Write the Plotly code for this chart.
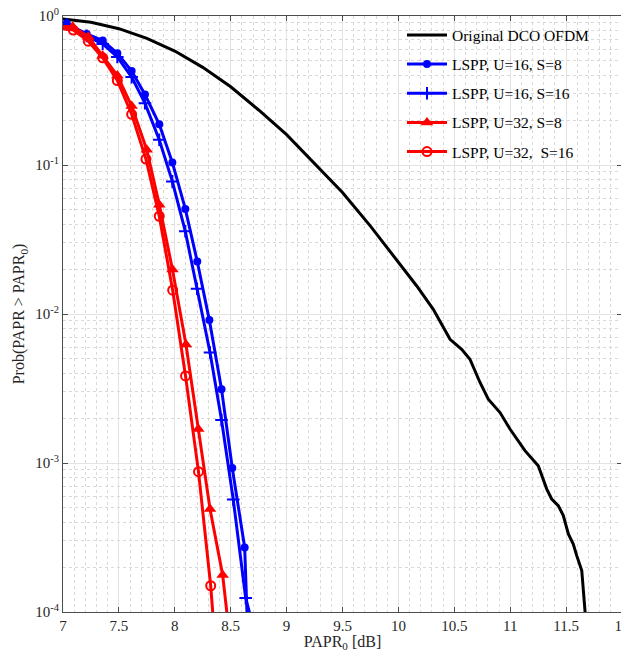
import plotly.graph_objects as go

# ---------------- data ----------------
papr_orig = [6.9, 7.0, 7.25, 7.5, 7.75, 8.0, 8.25, 8.5, 8.75, 9.0, 9.25, 9.5, 9.75,
             10.014, 10.164, 10.312, 10.462, 10.566, 10.640, 10.730, 10.804, 10.909, 10.998,
             11.132, 11.251, 11.327, 11.371, 11.430, 11.475, 11.520, 11.564, 11.595, 11.640,
             11.669, 11.69]
ccdf_orig = [0.973, 0.955, 0.909, 0.822, 0.708, 0.582, 0.452, 0.335, 0.234, 0.160, 0.102,
             0.0653, 0.0389, 0.02148, 0.01542, 0.01074, 0.00676, 0.00579, 0.00497, 0.00347,
             0.00268, 0.00218, 0.00169, 0.00121, 0.000957, 0.000668, 0.000573, 0.000518,
             0.000444, 0.000334, 0.000286, 0.000239, 0.000190, 0.000102, 0.00005]

papr_u16_s8 = [6.9, 7.033, 7.212, 7.355, 7.486, 7.614, 7.733, 7.861, 7.978, 8.094, 8.201, 8.309,
               8.418, 8.514, 8.625, 8.70]
ccdf_u16_s8 = [0.93, 0.893, 0.757, 0.684, 0.562, 0.427, 0.297, 0.1875, 0.104, 0.0507, 0.0225,
               0.0091, 0.00313, 0.000925, 0.000271, 0.000007]

papr_u16_s16 = [6.9, 7.033, 7.212, 7.355, 7.486, 7.614, 7.733, 7.861, 7.978, 8.094, 8.199, 8.315,
                8.418, 8.523, 8.634, 8.745]
ccdf_u16_s16 = [0.933, 0.877, 0.735, 0.649, 0.531, 0.389, 0.260, 0.1476, 0.0776, 0.0359, 0.01476,
                0.00551, 0.001945, 0.000568, 0.000124, 0.00006]

papr_u32_s8 = [6.9, 7.087, 7.226, 7.355, 7.486, 7.614, 7.749, 7.861, 7.979, 8.100, 8.210, 8.315,
               8.428, 8.54]
ccdf_u32_s8 = [0.851, 0.847, 0.726, 0.542, 0.398, 0.249, 0.1268, 0.0542, 0.0199, 0.00625, 0.00169,
               0.000491, 0.000177, 0.000032]

papr_u32_s16 = [6.9, 7.092, 7.226, 7.355, 7.486, 7.614, 7.742, 7.861, 7.981, 8.096, 8.212, 8.321,
                8.39]
ccdf_u32_s16 = [0.841, 0.805, 0.678, 0.524, 0.369, 0.219, 0.1096, 0.0453, 0.01445, 0.00384,
                0.000875, 0.00015, 0.000032]

x_ticks = [7, 7.5, 8, 8.5, 9, 9.5, 10, 10.5, 11, 11.5, 12]
x_ticklabels = ["7", "7.5", "8", "8.5", "9", "9.5", "10", "10.5", "11", "11.5", "12"]
y_ticks = [1e-4, 1e-3, 1e-2, 1e-1, 1]
y_ticklabels = ["10<sup>-4</sup>", "10<sup>-3</sup>", "10<sup>-2</sup>", "10<sup>-1</sup>", "10<sup>0</sup>"]

names = ["Original DCO OFDM", "LSPP, U=16, S=8", "LSPP, U=16, S=16",
         "LSPP, U=32, S=8", "LSPP, U=32,\u00a0 S=16"]

# ---------------- figure ----------------
FONT = "Liberation Serif"
fig = go.Figure()

fig.add_trace(go.Scatter(x=papr_orig, y=ccdf_orig, mode="lines", name=names[0],
                         legendgroup="a",
                         line=dict(color="black", width=3)))
fig.add_trace(go.Scatter(x=papr_u16_s8, y=ccdf_u16_s8, mode="lines+markers", name=names[1],
                         legendgroup="b",
                         line=dict(color="#0000FF", width=3),
                         marker=dict(symbol="circle", size=8, color="#0000FF")))
fig.add_trace(go.Scatter(x=papr_u16_s16, y=ccdf_u16_s16, mode="lines+markers", name=names[2],
                         legendgroup="c",
                         line=dict(color="#0000FF", width=3),
                         marker=dict(symbol="cross-thin", size=9, color="#0000FF",
                                     line=dict(color="#0000FF", width=2))))
fig.add_trace(go.Scatter(x=papr_u32_s8, y=ccdf_u32_s8, mode="lines+markers", name=names[3],
                         legendgroup="d",
                         line=dict(color="#FF0000", width=3),
                         marker=dict(symbol="triangle-up", size=11, color="#FF0000")))
fig.add_trace(go.Scatter(x=papr_u32_s16, y=ccdf_u32_s16, mode="lines+markers", name=names[4],
                         legendgroup="e",
                         line=dict(color="#FF0000", width=3),
                         marker=dict(symbol="circle-open", size=9, color="#FF0000",
                                     line=dict(color="#FF0000", width=2))))

axis_common = dict(
    showline=True, linecolor="#4d4d4d", linewidth=1, mirror="ticks",
    ticks="inside", ticklen=5, tickcolor="#4d4d4d",
    showgrid=True, gridcolor="#e3e3e3", gridwidth=1,
    zeroline=False, ticklabeloverflow="allow",
    tickfont=dict(family=FONT, size=15, color="#262626"),
)

fig.update_xaxes(
    range=[7, 12], tickmode="array", tickvals=x_ticks, ticktext=x_ticklabels,
    minor=dict(dtick=0.1, showgrid=True, gridcolor="#d9d9d9", griddash="dot", ticks=""),
    title=dict(text="PAPR<sub>0</sub> [dB]", font=dict(family=FONT, size=16, color="#262626"),
               standoff=9),
    automargin=False,
    **axis_common)
fig.update_yaxes(
    type="log", range=[-4, 0], tickmode="array", tickvals=y_ticks, ticktext=y_ticklabels,
    minor=dict(dtick="D1", showgrid=True, gridcolor="#d9d9d9", griddash="dot", ticks=""),
    title=dict(text="Prob(PAPR > PAPR<sub>0</sub>)", font=dict(family=FONT, size=16, color="#262626"),
               standoff=6),
    automargin=False,
    **axis_common)

# white backing for the legend area (as in the reference legend box)
fig.add_shape(type="rect", xref="paper", yref="paper",
              x0=0.5814, x1=1.0, y0=0.7466, y1=0.998,
              fillcolor="white", line=dict(width=0), layer="between")

fig.update_layout(
    width=621, height=644,
    margin=dict(l=55, r=7, t=8, b=40),
    paper_bgcolor="white", plot_bgcolor="white",
    font=dict(family=FONT, size=15, color="black"),
    showlegend=True,
    legend=dict(x=0.6064, xanchor="left", y=0.996, yanchor="top",
                bgcolor="rgba(255,255,255,0)", borderwidth=0,
                font=dict(family=FONT, size=15.5, color="black"),
                tracegroupgap=6, itemwidth=40),
)

fig.write_html("out.html")
